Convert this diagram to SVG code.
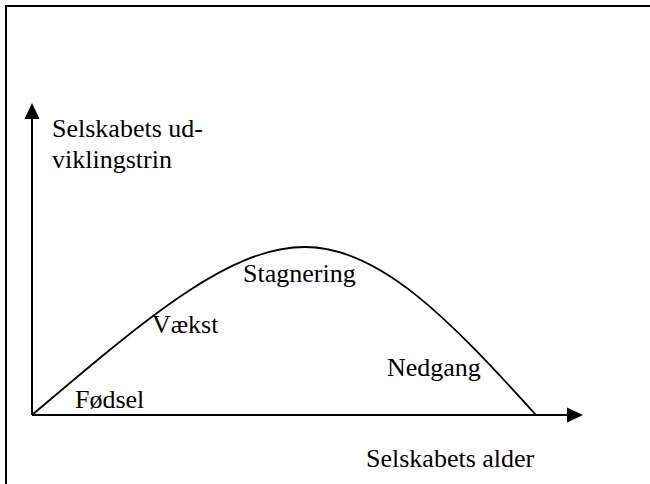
<svg xmlns="http://www.w3.org/2000/svg" width="650" height="484" viewBox="0 0 650 484">
  <style>
    .frame { fill: none; stroke: #000; stroke-width: 2; }
    .axis { fill: none; stroke: #000; stroke-width: 2; }
    .curve { fill: none; stroke: #000; stroke-width: 1.8; }
    .head { fill: #000; }
  </style>
  <rect width="650" height="484" fill="#fff"/>
  <!-- outer frame (right and bottom edges run off the canvas) -->
  <rect class="frame" x="6" y="6" width="660" height="500"/>

  <g id="connectors">
    <!-- y axis -->
    <line class="axis" x1="32" y1="415" x2="32" y2="116"/>
    <polygon class="head" points="32,103 24.5,119 39.5,119"/>
    <!-- x axis -->
    <line class="axis" x1="32" y1="415" x2="570" y2="415"/>
    <polygon class="head" points="583,415 567,407.5 567,422.5"/>
    <!-- life-cycle curve -->
    <path class="curve" d="M32,415 C150,315 230,247 305,247 C380,247 450,320 536,415"/>
  </g>

  <g font-family="Times New Roman, Liberation Serif, DejaVu Serif, serif" font-size="26" fill="#000">
    <g id="y-label">
      <text x="52" y="137">Selskabets ud-</text>
      <text x="52" y="168">viklingstrin</text>
    </g>
    <g id="x-label">
      <text x="366" y="467">Selskabets alder</text>
    </g>
    <g id="fodsel"><text x="75" y="408">Fødsel</text></g>
    <g id="vaekst"><text x="152" y="333">Vækst</text></g>
    <g id="stagnering"><text x="243" y="282">Stagnering</text></g>
    <g id="nedgang"><text x="387" y="376">Nedgang</text></g>
  </g>
</svg>
